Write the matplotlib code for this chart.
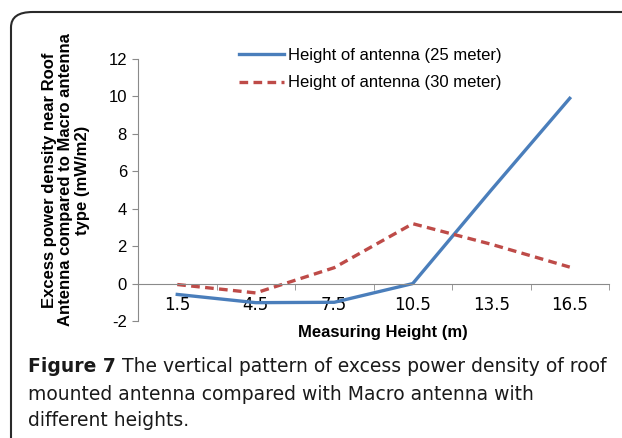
import matplotlib.pyplot as plt
from matplotlib.patches import FancyBboxPatch

# data
heights = ["1.5", "4.5", "7.5", "10.5", "13.5", "16.5"]
antenna_25m = [-0.58, -1.02, -1.0, 0.0, 5.0, 9.9]
antenna_30m = [-0.05, -0.5, 0.85, 3.2, 2.1, 0.88]
y_ticks = [-2, 0, 2, 4, 6, 8, 10, 12]

W, H = 622, 438
FONT = "Liberation Sans"
CAP_FONT = "DejaVu Sans"

fig = plt.figure(figsize=(W / 100, H / 100), dpi=100)
fig.patch.set_facecolor("white")

# rounded panel border, runs off the right and bottom edges
frame = FancyBboxPatch((11 / W, -0.3), 1.3, 0.3 + 1 - 12 / H,
                       boxstyle="round,pad=0,rounding_size=0.035",
                       transform=fig.transFigure, facecolor="none",
                       edgecolor="#2a2a2a", linewidth=1.5)
fig.add_artist(frame)

ax = fig.add_axes([138 / W, 1 - 321 / H, (609 - 138) / W, (321 - 59) / H])
x = list(range(len(heights)))
ax.plot(x, antenna_25m, color="#4a7ebb", lw=2.4,
        label="Height of antenna (25 meter)")
ax.plot(x, antenna_30m, color="#be4b48", lw=2.4, ls=(0, (2.6, 1.6)),
        label="Height of antenna (30 meter)")

ax.set_xlim(-0.5, len(heights) - 0.5)
ax.set_ylim(-2, 12)
ax.set_yticks(y_ticks, [str(v) for v in y_ticks])
ax.set_xticks(x, heights)
ax.set_xticks([i - 0.5 for i in range(len(heights) + 1)], minor=True)
ax.tick_params(axis="both", which="major", labelsize=12)
ax.tick_params(axis="x", which="major", length=0, pad=9)
ax.tick_params(axis="x", which="minor", length=4, color="#8a8a8a")
ax.tick_params(axis="y", length=4, color="#8a8a8a", pad=4)
for lab in ax.get_xticklabels() + ax.get_yticklabels():
    lab.set_family(FONT)

for s in ("top", "right"):
    ax.spines[s].set_visible(False)
ax.spines["bottom"].set_position(("data", 0))
ax.spines["bottom"].set_color("#8a8a8a")
ax.spines["left"].set_color("#8a8a8a")

fig.text(383 / W, 1 - 332 / H, "Measuring Height (m)", ha="center",
         va="center", fontsize=12, fontweight="bold", family=FONT)
fig.text(66 / W, 1 - 180 / H,
         "Excess power density near Roof\nAntenna compared to Macro antenna\ntype (mW/m2)",
         rotation=90, ha="center", va="center", fontsize=12,
         fontweight="bold", family=FONT, linespacing=1.15)

ax.legend(loc="upper left", bbox_to_anchor=(224 / W, 1 - 33 / H),
          bbox_transform=fig.transFigure, frameon=False,
          prop={"family": FONT, "size": 12},
          handlelength=2.7, handletextpad=0.25, labelspacing=0.75)

# caption: bold "Figure 7" run, then normal text, fitted to the reference width
lines = [("Figure 7", " The vertical pattern of excess power density of roof"),
         ("", "mounted antenna compared with Macro antenna with"),
         ("", "different heights.")]
renderer = fig.canvas.get_renderer()
pb = fig.text(0, 0, lines[0][0], fontsize=12, fontweight="bold",
              family=CAP_FONT)
pn = fig.text(0, 0, lines[0][1], fontsize=12, family=CAP_FONT)
probe_w = (pb.get_window_extent(renderer=renderer).width
           + pn.get_window_extent(renderer=renderer).width)
cap_size = 12 * 576 / probe_w
pb.remove()
pn.remove()

for i, (bold, rest) in enumerate(lines):
    y = 1 - (367 + 27 * i) / H
    x0 = 28 / W
    if bold:
        tb = fig.text(x0, y, bold, fontsize=cap_size, fontweight="bold",
                      family=CAP_FONT, va="center", ha="left",
                      color="#1a1a1a")
        x0 = tb.get_window_extent(renderer=renderer).x1 / W
    fig.text(x0, y, rest, fontsize=cap_size, family=CAP_FONT, va="center",
             ha="left", color="#1a1a1a")

fig.savefig("out.png", dpi=100)
